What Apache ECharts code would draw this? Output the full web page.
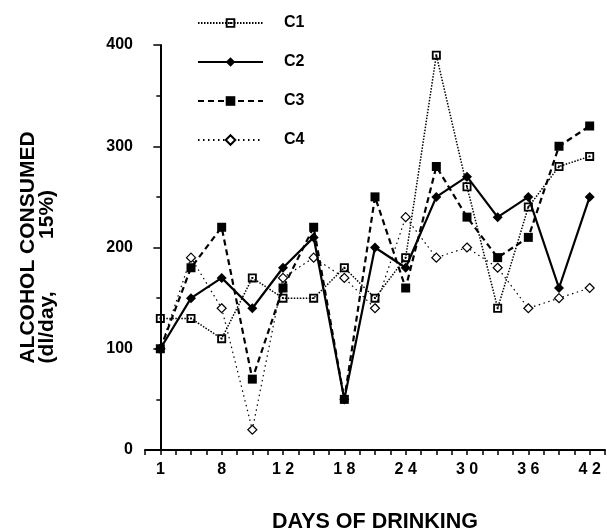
<!DOCTYPE html>
<html>
<head>
<meta charset="utf-8">
<script src="https://cdn.jsdelivr.net/npm/echarts@6/dist/echarts.min.js"></script>
<style>
html,body{margin:0;padding:0;background:#fff;}
#chart{width:607px;height:529px;}
</style>
</head>
<body>
<div id="chart"></div>
<script>
// x positions: 15 sampling points, labelled every other point
const tickLabels = ['1', '8', '12', '18', '24', '30', '36', '42'];
const C1 = [130, 130, 110, 170, 150, 150, 180, 150, 190, 390, 260, 140, 240, 280, 290];
const C2 = [100, 150, 170, 140, 180, 210, 50, 200, 180, 250, 270, 230, 250, 160, 250];
const C3 = [100, 180, 220, 70, 160, 220, 50, 250, 160, 280, 230, 190, 210, 300, 320];
const C4 = [100, 190, 140, 20, 170, 190, 170, 140, 230, 190, 200, 180, 140, 150, 160];
const yTicks = [0, 100, 200, 300, 400];

const FONT = 'Liberation Sans, Arial, Helvetica, sans-serif';
const toPts = arr => arr.map((v, i) => [i, v]);
const boxDot = 'path://M0,0 L10,0 L10,10 L0,10 Z M2,2 L2,8 L8,8 L8,2 Z M4,4 L6,4 L6,6 L4,6 Z';

const chart = echarts.init(document.getElementById('chart'), null, {renderer: 'canvas'});
chart.setOption({
  backgroundColor: '#fff',
  animation: false,
  textStyle: {fontFamily: FONT, color: '#000'},
  grid: {left: 145, right: 2, top: 45, bottom: 79, containLabel: false, outerBoundsMode: 'none'},
  legend: {
    orient: 'vertical',
    left: 192,
    top: 10,
    itemWidth: 65,
    itemHeight: 12,
    itemGap: 23,
    textStyle: {fontFamily: FONT, fontSize: 16, fontWeight: 'bold', color: '#000', padding: [0, 0, 0, 16]},
    data: ['C1', 'C2', 'C3', 'C4']
  },
  xAxis: {
    type: 'value',
    min: -0.5,
    max: 14.5,
    interval: 0.5,
    name: 'DAYS OF DRINKING',
    nameLocation: 'middle',
    nameGap: 61,
    nameTextStyle: {fontFamily: FONT, fontSize: 21.5, fontWeight: 'bold', color: '#000'},
    axisLine: {show: true, onZero: false, lineStyle: {color: '#000', width: 2}},
    axisTick: {show: true, inside: false, length: 5, lineStyle: {color: '#000', width: 1.5}},
    splitLine: {show: false},
    axisLabel: {
      show: true,
      margin: 12,
      fontFamily: FONT, fontSize: 16, fontWeight: 'bold', color: '#000',
      showMinLabel: true, showMaxLabel: true,
      formatter: function (v) {
        if (Math.abs(v - Math.round(v)) > 1e-6) return '';
        const r = Math.round(v);
        if (r % 2 !== 0) return '';
        const lab = tickLabels[r / 2];
        return lab ? lab.split('').join(' ') : '';
      }
    }
  },
  yAxis: {
    type: 'value',
    min: yTicks[0],
    max: yTicks[yTicks.length - 1],
    interval: 100,
    name: 'ALCOHOL CONSUMED\n(dl/day,         15%)          ',
    nameLocation: 'middle',
    nameRotate: 90,
    nameGap: 88,
    nameTextStyle: {fontFamily: FONT, fontSize: 21, fontWeight: 'bold', color: '#000', lineHeight: 19},
    axisLine: {show: true, lineStyle: {color: '#000', width: 2}},
    axisTick: {show: true, inside: false, length: 7, lineStyle: {color: '#000', width: 1.5}},
    minorTick: {show: true, splitNumber: 2, length: 4, lineStyle: {color: '#000', width: 1.5}},
    splitLine: {show: false},
    axisLabel: {margin: 12, fontFamily: FONT, fontSize: 16, fontWeight: 'bold', color: '#000'}
  },
  series: [
    {
      name: 'C1', type: 'line', data: toPts(C1),
      symbol: boxDot, symbolSize: 9, showAllSymbol: true,
      lineStyle: {color: '#000', width: 1.5, type: [1.5, 1.5]},
      itemStyle: {color: '#000'}, z: 3
    },
    {
      name: 'C2', type: 'line', data: toPts(C2),
      symbol: 'diamond', symbolSize: 10, showAllSymbol: true,
      lineStyle: {color: '#000', width: 2.2, type: 'solid'},
      itemStyle: {color: '#000'}, z: 4
    },
    {
      name: 'C3', type: 'line', data: toPts(C3),
      symbol: 'rect', symbolSize: 9, showAllSymbol: true,
      lineStyle: {color: '#000', width: 2.2, type: [6, 4]},
      itemStyle: {color: '#000'}, z: 2
    },
    {
      name: 'C4', type: 'line', data: toPts(C4),
      symbol: 'diamond', symbolSize: 9, showAllSymbol: true,
      lineStyle: {color: '#000', width: 1.2, type: [1.5, 3.5]},
      itemStyle: {color: '#fff', borderColor: '#000', borderWidth: 1.2}, z: 1
    }
  ]
});
</script>
</body>
</html>
